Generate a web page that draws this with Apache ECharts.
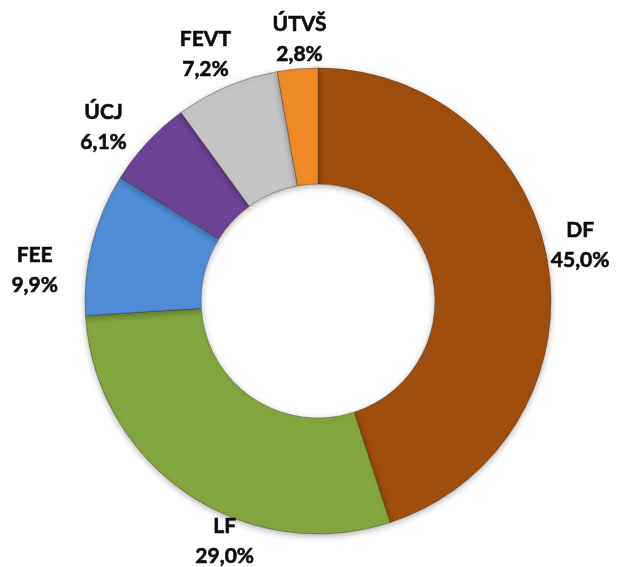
<!DOCTYPE html>
<html>
<head>
<meta charset="utf-8">
<script src="https://cdn.jsdelivr.net/npm/echarts@6/dist/echarts.min.js"></script>
<style>
html,body{margin:0;padding:0;background:#fff;}
#chart{width:621px;height:567px;}
</style>
</head>
<body>
<div id="chart"></div>
<script>
// Data
const categories = ['DF', 'LF', 'FEE', 'ÚCJ', 'FEVT', 'ÚTVŠ'];
const shares = [45.0, 29.0, 9.9, 6.1, 7.2, 2.8];
const valueLabels = ['45,0%', '29,0%', '9,9%', '6,1%', '7,2%', '2,8%'];

// Styling / layout
const sliceColors = ['#a04e0d', '#82a53f', '#4f8dd6', '#6c4496', '#c4c4c4', '#f08b27'];
const CX = 318, CY = 301, R_IN = 117, R_OUT = 233;
// Excel-like label placement: angle shift (deg) from slice mid-angle and distance from centre
const labelAngleShift = [-3, -13, -8, -4, -1.5, 1];
const labelDistance = [268, 258, 285, 276, 271, 262];

const total = shares.reduce((a, b) => a + b, 0);
function midAngle(i) {
  let cum = 0;
  for (let j = 0; j < i; j++) cum += shares[j];
  return (cum + shares[i] / 2) / total * 360;
}

const chart = echarts.init(document.getElementById('chart'), null, {renderer: 'canvas'});
chart.setOption({
  animation: false,
  backgroundColor: '#ffffff',
  series: [{
    type: 'pie',
    center: [CX, CY],
    radius: [R_IN, R_OUT],
    startAngle: 90,
    clockwise: true,
    avoidLabelOverlap: false,
    data: categories.map((c, i) => ({
      name: c,
      value: shares[i],
      itemStyle: {color: sliceColors[i]}
    })),
    itemStyle: {
      borderColor: 'rgba(50,40,30,0.45)',
      borderWidth: 0.8,
      shadowBlur: 6,
      shadowColor: 'rgba(0,0,0,0.3)',
      shadowOffsetY: 2
    },
    label: {
      show: true,
      position: 'outside',
      formatter: p => p.name + '\n' + valueLabels[p.dataIndex],
      fontFamily: 'Lato',
      fontWeight: 'bold',
      fontSize: 21,
      lineHeight: 30,
      color: '#0d0d0d',
      textBorderColor: '#0d0d0d',
      textBorderWidth: 0.6,
      align: 'center'
    },
    labelLine: {show: false, length: 0, length2: 0},
    labelLayout: function (params) {
      const i = params.dataIndex;
      const a = (midAngle(i) + labelAngleShift[i]) * Math.PI / 180;
      const d = labelDistance[i];
      return {
        x: CX + d * Math.sin(a),
        y: CY - d * Math.cos(a),
        align: 'center',
        verticalAlign: 'middle'
      };
    },
    emphasis: {disabled: true}
  }]
});
</script>
</body>
</html>
